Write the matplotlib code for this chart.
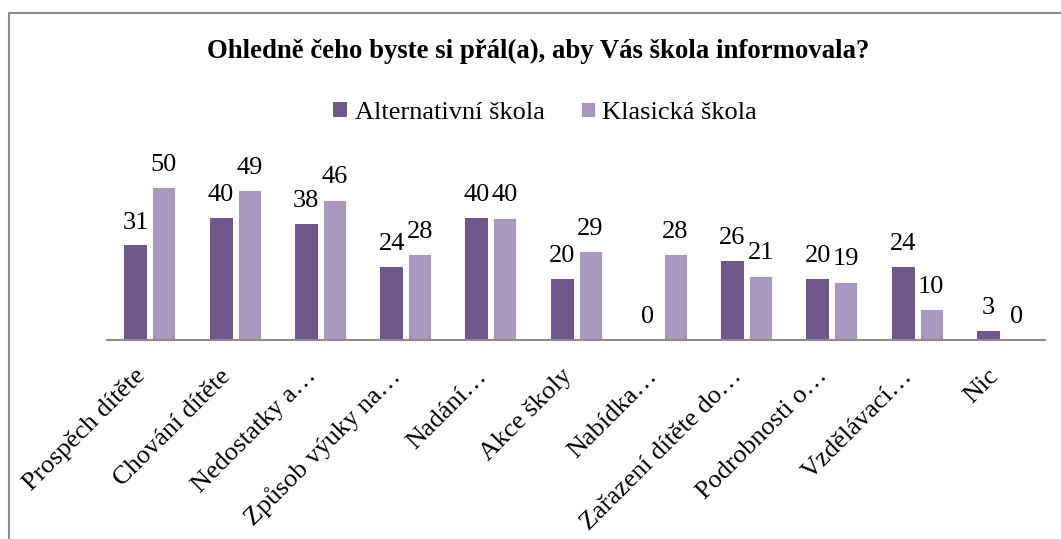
import matplotlib
matplotlib.use("Agg")
import matplotlib.pyplot as plt
from matplotlib.lines import Line2D
import numpy as np

plt.rcParams["font.family"] = ["Liberation Serif", "DejaVu Serif"]

kategorie = ["Prospěch dítěte", "Chování dítěte", "Nedostatky a…", "Způsob výuky na…",
             "Nadání…", "Akce školy", "Nabídka…", "Zařazení dítěte do…",
             "Podrobnosti o…", "Vzdělávací…", "Nic"]
alternativni = [31, 40, 38, 24, 40, 20, 0, 26, 20, 24, 3]
klasicka = [50, 49, 46, 28, 40, 29, 28, 21, 19, 10, 0]

barva_alt = "#6f578c"
barva_kla = "#a898be"

fig = plt.figure(figsize=(10.61, 5.39), dpi=100)
ax = fig.add_axes([0.1011, 0.3692, 0.8838, 0.340])

x = np.arange(len(kategorie))
sirka = 0.27
b1 = ax.bar(x - 0.165, alternativni, sirka, color=barva_alt, label="Alternativní škola")
b2 = ax.bar(x + 0.165, klasicka, sirka, color=barva_kla, label="Klasická škola",
            edgecolor="white", linewidth=0.6)

# popisky hodnot nad sloupci
for bars in (b1, b2):
    for bar in bars:
        h = bar.get_height()
        ax.annotate(f"{h:.0f}", (bar.get_x() + bar.get_width() / 2, h),
                    xytext=(0, 12), textcoords="offset points",
                    ha="center", va="baseline", fontsize=19)

ax.set_xlim(-0.5, len(kategorie) - 0.5)
ax.set_ylim(0, 60)
ax.set_yticks([])
for s in ["top", "right", "left"]:
    ax.spines[s].set_visible(False)
ax.spines["bottom"].set_color("#8c8c8c")
ax.spines["bottom"].set_linewidth(1.5)

ax.set_xticks(x)
ax.set_xticklabels(kategorie, rotation=45, ha="right", va="top", fontsize=19)
ax.tick_params(axis="x", length=0, pad=18)

fig.text(0.5075, 0.905, "Ohledně čeho byste si přál(a), aby Vás škola informovala?",
         ha="center", va="center", fontsize=19.3, fontweight="bold")

fig.legend(handles=[b1, b2], loc="center", bbox_to_anchor=(0.514, 0.790), ncol=2,
           frameon=False, fontsize=19, handlelength=0.5, handleheight=0.5,
           handletextpad=0.3, columnspacing=1.4)

# ramecek grafu (jen horni a leva hrana)
fig.add_artist(Line2D([9 / 1061, 1.0], [1 - 12.5 / 539, 1 - 12.5 / 539],
                      color="#8c8c8c", linewidth=1.5, transform=fig.transFigure))
fig.add_artist(Line2D([9 / 1061, 9 / 1061], [0, 1 - 12.5 / 539],
                      color="#8c8c8c", linewidth=1.5, transform=fig.transFigure))

fig.savefig("out.png", dpi=100)
